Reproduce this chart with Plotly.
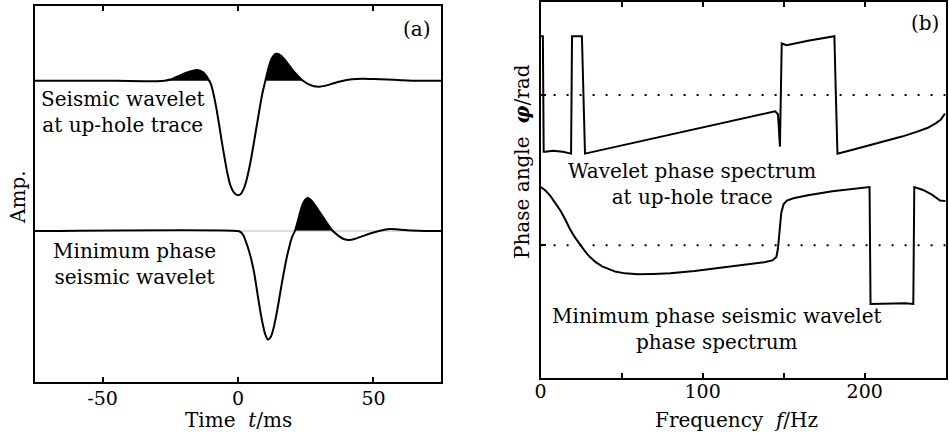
import plotly.graph_objects as go

# ---------------- Panel (a): wavelets (time in ms, normalised amplitude) -------------
t_up = [-75, -60, -45, -35, -30, -27, -25, -23, -21, -19, -17, -15, -13, -12, -11,
        -10, -9, -8, -7, -6, -5, -4, -3, -2, -1, 0, 1, 2, 3, 4, 5, 6, 7, 8, 9,
        10, 11, 12, 13, 14, 15, 16, 17, 19, 21, 23, 24, 26, 28, 30, 32, 35, 38,
        42, 46, 50, 55, 60, 65, 75]
a_up = [0, 0, 0, -0.004, -0.005, 0.0, 0.01, 0.03, 0.05, 0.07, 0.085, 0.093, 0.075, 0.05, 0.015,
        -0.03, -0.12, -0.24, -0.38, -0.53, -0.67, -0.80, -0.90, -0.96, -0.99, -1.0, -0.99, -0.95,
        -0.88, -0.78, -0.66, -0.52, -0.38, -0.24, -0.11,
        -0.01, 0.09, 0.17, 0.215, 0.235, 0.232, 0.215, 0.19, 0.13, 0.07, 0.02, 0.0, -0.03, -0.048,
        -0.052, -0.045, -0.025, -0.005, 0.012, 0.017, 0.015, 0.01, 0.005, 0.0, 0]

t_mp = [-75, 0, 1, 2, 3, 4, 5, 6, 7, 8, 9, 10, 11, 12, 13, 14, 15, 16, 17, 18, 19, 20,
        21, 22, 23, 24, 25, 26, 27, 28, 30, 32, 34, 35, 37, 39, 41, 43, 46, 49, 52, 56,
        60, 64, 69, 75]
a_mp = [0, 0, -0.01, -0.04, -0.10, -0.17, -0.26, -0.37, -0.52, -0.67, -0.80, -0.90, -0.948,
        -0.93, -0.86, -0.75, -0.62, -0.48, -0.35, -0.23, -0.13, -0.05,
        0.0, 0.08, 0.17, 0.24, 0.28, 0.287, 0.27, 0.24, 0.17, 0.10, 0.03, 0.0, -0.04, -0.07,
        -0.078, -0.07, -0.045, -0.02, 0.0, 0.017, 0.012, 0.005, 0.0, 0]

offset_up = 1.313   # vertical offset of the up-hole trace
offset_mp = 0.0     # vertical offset of the minimum phase trace
fill_window = (-30, 40)

x_ticks_a = [-50, 0, 50]
x_ticktext_a = ["-50", "0", "50"]

# ---------------- Panel (b): phase spectra (Hz, phase in units of pi) ----------------
f_up = [0.3, 1.4, 1.9, 3, 7.7, 13.7, 18.8, 19.4, 20.4, 25.5, 27.4, 50, 80, 110, 140,
        144.7, 146.5, 147.7, 148.8, 151.8, 165, 181.3, 182.2, 183.2, 192, 202.6, 213,
        223, 232, 239, 244, 247, 249.5]
p_up = [1.0, 1.0, -0.97, -0.97, -0.95, -0.97, -1.0, 1.0, 1.0, 1.0, -1.0, -0.86, -0.68,
        -0.49, -0.31, -0.28, -0.33, -0.88, 0.875, 0.845, 0.92, 1.0, 0.0, -1.0, -0.94,
        -0.86, -0.79, -0.71, -0.63, -0.56, -0.48, -0.42, -0.32]

f_mp = [0, 3, 6, 9, 12, 15, 18, 21, 24, 27, 30, 34, 38, 42, 46, 52, 60, 70, 80, 95, 110,
        125, 138, 143, 145.5, 146.5, 147.5, 148.5, 150, 152, 156, 165, 180, 195, 203,
        203.6, 215, 225, 230, 230.6, 236, 241.5, 246.5, 250]
p_mp = [0.99, 0.93, 0.84, 0.72, 0.60, 0.45, 0.28, 0.14, 0.02, -0.09, -0.19, -0.29, -0.36,
        -0.41, -0.45, -0.48, -0.495, -0.49, -0.48, -0.44, -0.39, -0.34, -0.29, -0.26,
        -0.20, -0.05, 0.30, 0.55, 0.70, 0.76, 0.80, 0.85, 0.92, 0.96, 0.99,
        -1.0, -0.99, -0.99, -1.0, 0.99, 0.94, 0.86, 0.76, 0.75]

offset_pup = 2.559
offset_pmp = 0.0
f_range = [0, 250]
x_ticks_b = [0, 50, 100, 150, 200, 250]
x_ticktext_b = ["0", "", "100", "", "200", ""]

FONT = "DejaVu Serif"
W, H = 949, 433


def px(x):
    return x / W


def py(y):
    return 1 - y / H


fig = go.Figure()

# ---- panel (a) traces
for t, a, off in [(t_up, a_up, offset_up), (t_mp, a_mp, offset_mp)]:
    tf = [ti for ti in t if fill_window[0] <= ti <= fill_window[1]]
    af = [max(ai, 0) + off for ti, ai in zip(t, a) if fill_window[0] <= ti <= fill_window[1]]
    fig.add_trace(go.Scatter(x=tf, y=[off] * len(tf), mode="lines",
                             line=dict(width=0, color="black"), hoverinfo="skip",
                             showlegend=False, xaxis="x", yaxis="y"))
    fig.add_trace(go.Scatter(x=tf, y=af, mode="lines", fill="tonexty",
                             fillcolor="black", line=dict(width=0, color="black"),
                             hoverinfo="skip", showlegend=False, xaxis="x", yaxis="y"))

# grey reference line of the minimum-phase trace
fig.add_trace(go.Scatter(x=[0, 75], y=[offset_mp, offset_mp], mode="lines",
                         line=dict(width=1, color="#bbbbbb"), showlegend=False,
                         xaxis="x", yaxis="y"))

for t, a, off in [(t_up, a_up, offset_up), (t_mp, a_mp, offset_mp)]:
    fig.add_trace(go.Scatter(x=t, y=[ai + off for ai in a], mode="lines",
                             line=dict(width=2, color="black", shape="spline", smoothing=0.6),
                             showlegend=False, xaxis="x", yaxis="y"))

# ---- panel (b) traces
for lvl in [offset_pup, offset_pmp]:
    fig.add_trace(go.Scatter(x=f_range, y=[lvl, lvl], mode="lines",
                             line=dict(width=2, color="black", dash="2px,11px"),
                             showlegend=False, xaxis="x2", yaxis="y2"))

for f, p, off in [(f_up, p_up, offset_pup), (f_mp, p_mp, offset_pmp)]:
    fig.add_trace(go.Scatter(x=f, y=[pi + off for pi in p], mode="lines",
                             line=dict(width=2, color="black"),
                             showlegend=False, xaxis="x2", yaxis="y2"))

axis_common = dict(showline=True, linewidth=2, linecolor="black", showgrid=False,
                   zeroline=False)
tickfont = dict(family=FONT, size=19, color="black")

fig.update_layout(
    width=W, height=H, margin=dict(l=0, r=0, t=0, b=0),
    paper_bgcolor="white", plot_bgcolor="white",
    xaxis=dict(domain=[px(29), px(438)], range=[-75, 75], anchor="y",
               tickvals=x_ticks_a, ticktext=x_ticktext_a, ticks="inside", ticklen=5,
               tickwidth=1.5, tickcolor="black", mirror="ticks", tickfont=tickfont,
               ticklabelstandoff=-2, **axis_common),
    yaxis=dict(domain=[py(381.5), py(4)], range=[-1.317, 1.966], anchor="x",
               showticklabels=False, ticks="", mirror=True, **axis_common),
    xaxis2=dict(domain=[px(538), px(945.7)], range=f_range, anchor="y2",
                tickvals=x_ticks_b, ticktext=x_ticktext_b, ticks="inside", ticklen=5,
                tickwidth=1.5, tickcolor="black", mirror="ticks", tickfont=tickfont,
                ticklabelstandoff=-4, **axis_common),
    yaxis2=dict(domain=[py(377.3), py(0.5)], range=[-2.254, 4.132], anchor="x2",
                tickvals=[offset_pmp, offset_pup], showticklabels=False, ticks="inside",
                ticklen=5, tickwidth=1.5, tickcolor="black", mirror=True, **axis_common),
)

ann_font = dict(family=FONT, size=20, color="black")
annotations = [
    dict(text="Seismic wavelet<br>at up-hole trace", x=px(117.5), y=py(111)),
    dict(text="Minimum phase<br>seismic wavelet", x=px(129), y=py(263)),
    dict(text="Wavelet phase spectrum<br>at up-hole trace", x=px(690), y=py(183)),
    dict(text="Minimum phase seismic wavelet<br>phase spectrum", x=px(716), y=py(329)),
    dict(text="(a)", x=px(414), y=py(27)),
    dict(text="(b)", x=px(925), y=py(21)),
    dict(text="Time  <i>t</i>/ms", x=px(234), y=py(420)),
    dict(text="Frequency  <i>f</i>/Hz", x=px(735), y=py(420)),
    dict(text="Amp.", x=px(12), y=py(196), textangle=-90),
    dict(text="Phase angle  <b><i>φ</i></b>/rad", x=px(520), y=py(160), textangle=-90),
]
for a in annotations:
    fig.add_annotation(xref="paper", yref="paper", showarrow=False, xanchor="center",
                       yanchor="middle", align="center", font=ann_font, **a)

fig.write_html("out.html")
